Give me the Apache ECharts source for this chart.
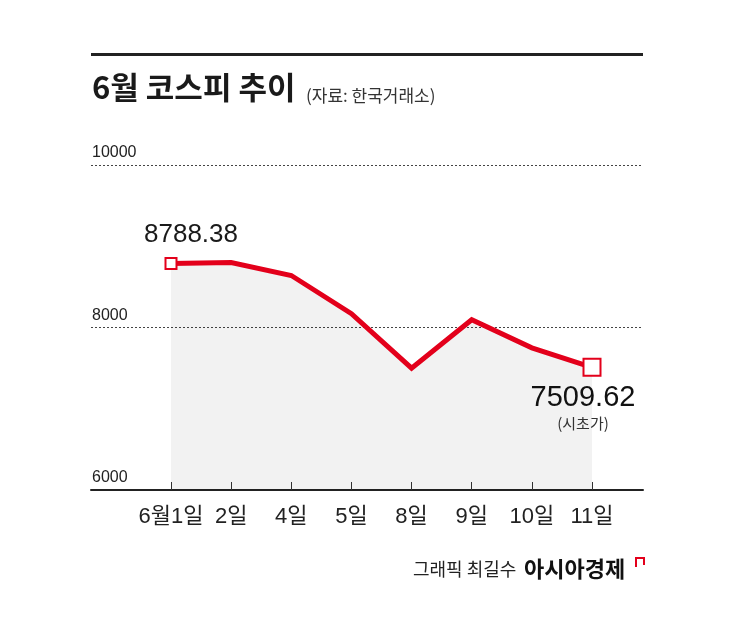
<!DOCTYPE html>
<html>
<head>
<meta charset="utf-8">
<script src="https://cdn.jsdelivr.net/npm/echarts@6/dist/echarts.min.js"></script>
<style>
html,body{margin:0;padding:0;background:#fff;}
#chart{width:745px;height:617px;}
</style>
</head>
<body>
<div id="chart"></div>
<script>
// Data
var categories = ['6월1일', '2일', '4일', '5일', '8일', '9일', '10일', '11일'];
var kospi = [8788.38, 8800, 8640, 8170, 7500, 8095, 7750, 7509.62];
var yTicks = [6000, 8000, 10000];
var titleText = '6월 코스피 추이';
var sourceText = '(자료: 한국거래소)';
var firstNote = '8788.38';
var lastNote = '7509.62';
var lastSub = '(시초가)';
var creditText = '그래픽 최길수';
var brandText = '아시아경제';

var NUM = "'Liberation Sans', 'Noto Sans CJK KR', sans-serif";
var KR = "'Noto Sans CJK KR', sans-serif";
var RED = '#e3001b';

var n = kospi.length;
var seriesData = kospi.map(function (v, i) {
  var item = { value: v, symbolSize: 0 };
  if (i === 0) {
    item.symbolSize = 11;
    item.label = {
      show: true, position: 'top', distance: 9, offset: [20, 0],
      formatter: firstNote, fontFamily: NUM, fontSize: 26, color: '#1a1a1a'
    };
  } else if (i === n - 1) {
    item.symbolSize = 17;
    item.label = {
      show: true, position: 'bottom', distance: 6, offset: [-9, 0], align: 'center',
      formatter: '{a|' + lastNote + '}\n{b|' + lastSub + '}',
      rich: {
        a: { fontFamily: NUM, fontSize: 29, color: '#111', lineHeight: 30, align: 'center' },
        b: { fontFamily: KR, fontSize: 15, color: '#333', lineHeight: 20, align: 'center' }
      }
    };
  }
  return item;
});

var chart = echarts.init(document.getElementById('chart'), null, { renderer: 'canvas' });
chart.setOption({
  backgroundColor: '#fff',
  animation: false,
  grid: [
    { left: 91, right: 102, top: 165, bottom: 127 },
    { left: 171, right: 153, top: 165, bottom: 127 }
  ],
  xAxis: [
    {
      gridIndex: 0, type: 'category', data: ['a', 'b'], boundaryGap: false,
      axisLine: { show: true, lineStyle: { color: '#222', width: 2 } },
      axisTick: { show: false }, axisLabel: { show: false }, splitLine: { show: false }
    },
    {
      gridIndex: 1, type: 'category', data: categories, boundaryGap: false,
      axisLine: { show: false },
      axisTick: { show: true, inside: true, length: 8, interval: 0, lineStyle: { color: '#333', width: 1 } },
      axisLabel: { show: true, interval: 0, margin: 16, fontFamily: NUM, fontSize: 22, color: '#222' },
      splitLine: { show: false }
    }
  ],
  yAxis: [
    {
      gridIndex: 0, type: 'value', min: yTicks[0], max: yTicks[yTicks.length - 1], interval: 2000,
      axisLine: { show: false }, axisTick: { show: false },
      axisLabel: {
        show: true, inside: true, margin: 1, align: 'left', verticalAlign: 'bottom',
        padding: [0, 0, 4, 0],
        formatter: function (v) { return String(v); },
        fontFamily: NUM, fontSize: 16, color: '#222'
      },
      splitLine: { show: true, lineStyle: { color: '#444', type: [2, 2], width: 1 } }
    },
    {
      gridIndex: 1, type: 'value', min: yTicks[0], max: yTicks[yTicks.length - 1], interval: 2000,
      show: false, splitLine: { show: false }
    }
  ],
  series: [
    {
      type: 'line', xAxisIndex: 1, yAxisIndex: 1, data: seriesData,
      symbol: 'rect', showSymbol: true,
      itemStyle: { color: '#fff', borderColor: RED, borderWidth: 2 },
      lineStyle: { color: RED, width: 5, join: 'miter' },
      areaStyle: { color: 'rgba(0,0,0,0.07)', origin: 'start' },
      z: 3
    }
  ],
  graphic: [
    { type: 'rect', shape: { x: 91, y: 53, width: 552, height: 3 }, style: { fill: '#222' } },
    {
      type: 'text', x: 92, y: 87, style: {
        text: titleText, fontFamily: KR, fontWeight: 'bold', fontSize: 31, fill: '#1a1a1a',
        textVerticalAlign: 'middle'
      }
    },
    {
      type: 'text', x: 306, y: 96, style: {
        text: sourceText, fontFamily: KR, fontSize: 17, fill: '#333', textVerticalAlign: 'middle'
      }
    },
    {
      type: 'text', x: 413, y: 569, style: {
        text: creditText, fontFamily: KR, fontSize: 18, fill: '#222', textVerticalAlign: 'middle'
      }
    },
    {
      type: 'text', x: 524, y: 569, style: {
        text: brandText, fontFamily: KR, fontWeight: 'bold', fontSize: 22, fill: '#111', textVerticalAlign: 'middle'
      }
    },
    {
      type: 'polyline', shape: { points: [[636, 567], [636, 558], [644, 558], [644, 565]] },
      style: { stroke: RED, lineWidth: 2, fill: null }
    }
  ]
});
</script>
</body>
</html>
